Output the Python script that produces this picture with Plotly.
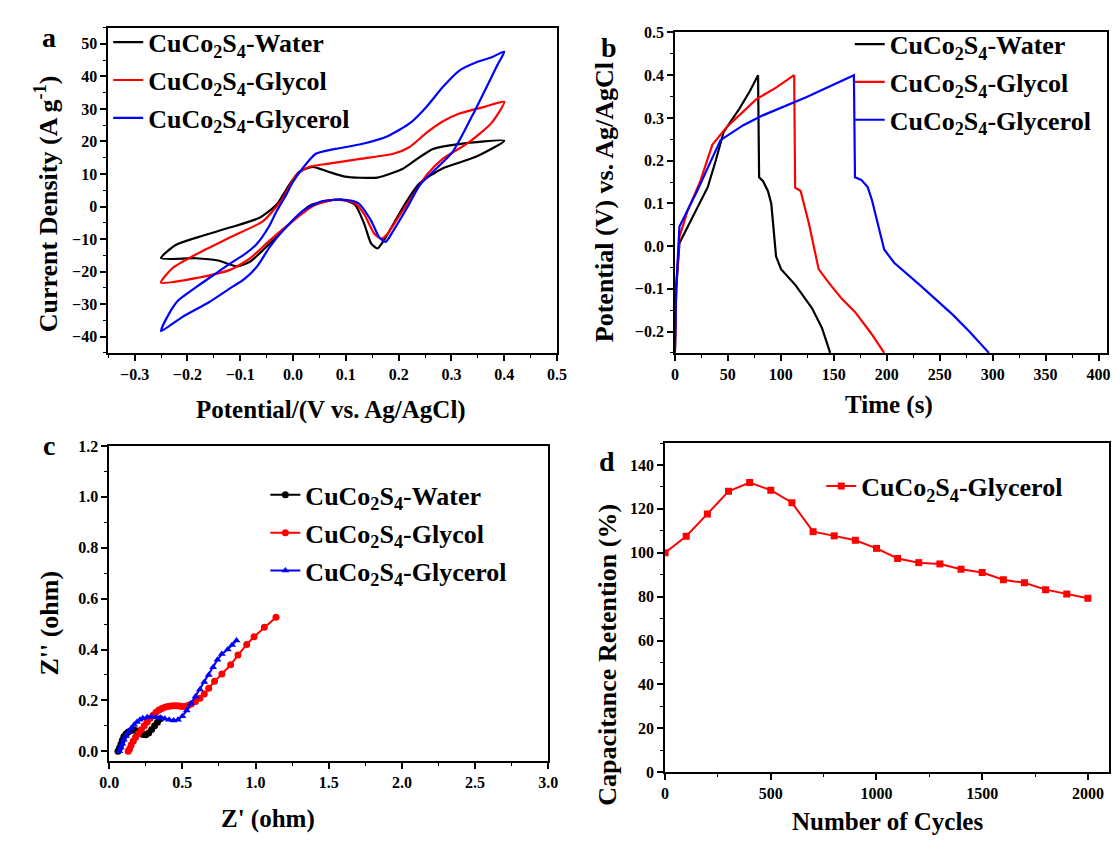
import plotly.graph_objects as go

W, H = 1120, 841
FONT = "Liberation Serif"

# ---------------- Panel a : CV ----------------
cv_water_v = [-0.25, -0.223, -0.18, -0.118, -0.0625, -0.031, -0.007, 0.012, 0.037, 0.067, 0.098, 0.16, 0.209, 0.24,
              0.265, 0.314, 0.4, 0.345, 0.283, 0.24, 0.215, 0.19, 0.172, 0.16, 0.148, 0.135, 0.117, 0.092, 0.067,
              0.03, -0.007, -0.044, -0.081, -0.106, -0.142, -0.185, -0.25]
cv_water_i = [-15.9, -11.9, -9.4, -6.4, -3.4, 0.6, 6.7, 10.7, 12.2, 10.7, 9.2, 8.9, 11.7, 15.2,
              17.7, 19.2, 20.2, 15.2, 11.7, 7.2, 1.6, -5.4, -10.4, -12.9, -11.4, -5.4, 0.6, 2.1, 1.8,
              0.1, -5.4, -11.4, -16.9, -18.4, -16.6, -15.9, -15.9]

cv_glycol_v = [-0.25, -0.228, -0.18, -0.118, -0.056, -0.019, 0.006, 0.031, 0.068, 0.13, 0.19, 0.22, 0.253, 0.284,
               0.314, 0.364, 0.4, 0.376, 0.333, 0.284, 0.253, 0.228, 0.203, 0.179, 0.167, 0.154, 0.135, 0.117,
               0.08, 0.037, 0.0, -0.044, -0.081, -0.118, -0.18, -0.25]
cv_glycol_i = [-23.4, -18.9, -14.4, -9.4, -4.4, 2.6, 9.7, 12.2, 13.2, 14.7, 16.2, 18.2, 22.7, 26.2,
               28.5, 30.7, 32.2, 25.7, 19.7, 14.7, 9.7, 3.6, -2.4, -8.4, -9.9, -8.4, -2.4, 1.1,
               2.1, 0.1, -4.4, -10.4, -15.9, -19.4, -21.9, -23.4]

cv_glycerol_v = [-0.25, -0.235, -0.218, -0.18, -0.15, -0.118, -0.09, -0.068, -0.045, -0.031, -0.015, 0.0, 0.018,
                 0.043, 0.08, 0.13, 0.18, 0.222, 0.253, 0.284, 0.315, 0.345, 0.375, 0.4,
                 0.388, 0.345, 0.302, 0.265, 0.24, 0.216, 0.19, 0.175, 0.163, 0.148, 0.123, 0.092, 0.055,
                 0.018, -0.019, -0.044, -0.068, -0.093, -0.118, -0.16, -0.21, -0.25]
cv_glycerol_i = [-38.3, -33.0, -29.0, -24.4, -21.0, -17.4, -14.5, -11.4, -6.0, -1.4, 3.0, 7.6, 11.7,
                 16.2, 17.7, 19.2, 21.7, 25.7, 30.7, 36.8, 41.8, 44.2, 45.8, 47.6,
                 43.8, 29.7, 16.7, 10.7, 6.6, -0.4, -7.4, -10.9, -9.4, -4.4, 1.1, 2.1, 1.6,
                 -1.4, -7.4, -12.4, -18.4, -22.4, -25.0, -29.5, -34.0, -38.3]

# ---------------- Panel b : GCD ----------------
gcd_water_t = [0, 1.2, 4.3, 10.5, 18, 31, 38.3, 46, 61, 70.8, 78.5, 79.5, 83.2, 87.8, 91, 93.5, 95.5, 100.2,
               114, 129.6, 138.9, 146.6]
gcd_water_p = [-0.25, -0.1, 0.007, 0.037, 0.072, 0.138, 0.198, 0.267, 0.322, 0.363, 0.4, 0.161, 0.152, 0.129,
               0.099, 0.03, -0.024, -0.054, -0.092, -0.146, -0.192, -0.25]

gcd_glycol_t = [0, 1.2, 4.3, 12, 24, 35.3, 49, 77, 95.5, 112.6, 113.5, 118.7, 126.5, 135.7, 145, 157.4, 170,
                185.2, 197.6]
gcd_glycol_p = [-0.25, -0.1, 0.022, 0.083, 0.152, 0.237, 0.279, 0.344, 0.371, 0.4, 0.137, 0.129, 0.053, -0.054,
                -0.085, -0.123, -0.154, -0.204, -0.25]

gcd_glycerol_t = [0, 1.2, 4.3, 21, 43, 64.6, 83, 123.4, 169, 170, 176, 182, 186, 189.9, 193.5, 197.6, 207, 231.6,
                  262.5, 278, 296.5]
gcd_glycerol_p = [-0.25, -0.1, 0.046, 0.129, 0.248, 0.283, 0.306, 0.348, 0.4, 0.161, 0.155, 0.138, 0.108, 0.068,
                  0.03, -0.008, -0.039, -0.092, -0.161, -0.2, -0.25]

# ---------------- Panel c : Nyquist ----------------
eis_water_re = [0.06, 0.07, 0.08, 0.09, 0.10, 0.115, 0.13, 0.15, 0.17, 0.19, 0.21, 0.23, 0.25, 0.27, 0.29, 0.31,
                0.33, 0.35]
eis_water_im = [0.0, 0.012, 0.028, 0.043, 0.057, 0.068, 0.076, 0.082, 0.084, 0.08, 0.072, 0.066, 0.065, 0.072,
                0.086, 0.1, 0.114, 0.128]

eis_glycol_re = [0.13, 0.14, 0.15, 0.165, 0.18, 0.2, 0.22, 0.24, 0.26, 0.28, 0.30, 0.32, 0.34, 0.36, 0.38, 0.40,
                 0.42, 0.44, 0.46, 0.48, 0.50, 0.52, 0.54, 0.56, 0.59, 0.62, 0.65, 0.68, 0.72, 0.77, 0.83, 0.88,
                 0.94, 0.99, 1.06, 1.14]
eis_glycol_im = [0.0, 0.01, 0.025, 0.04, 0.055, 0.07, 0.085, 0.1, 0.115, 0.13, 0.142, 0.153, 0.162, 0.168, 0.173,
                 0.176, 0.178, 0.179, 0.179, 0.178, 0.176, 0.176, 0.18, 0.186, 0.196, 0.208, 0.225, 0.248, 0.275,
                 0.304, 0.34, 0.378, 0.42, 0.45, 0.487, 0.527]

eis_glycerol_re = [0.07, 0.08, 0.09, 0.10, 0.115, 0.13, 0.15, 0.17, 0.19, 0.21, 0.23, 0.26, 0.29, 0.32, 0.35,
                   0.38, 0.41, 0.44, 0.47, 0.50, 0.53, 0.56, 0.59, 0.62, 0.65, 0.68, 0.71, 0.74, 0.77, 0.81,
                   0.84, 0.87]
eis_glycerol_im = [0.0, 0.015, 0.03, 0.045, 0.06, 0.075, 0.09, 0.104, 0.115, 0.124, 0.13, 0.134, 0.135, 0.134,
                   0.132, 0.128, 0.124, 0.121, 0.124, 0.138, 0.16, 0.188, 0.215, 0.243, 0.272, 0.3, 0.33, 0.36,
                   0.382, 0.4, 0.418, 0.435]

# ---------------- Panel d : cycling ----------------
cycles = [0, 100, 200, 300, 400, 500, 600, 700, 800, 900, 1000, 1100, 1200, 1300, 1400, 1500, 1600, 1700,
          1800, 1900, 2000]
retention = [100, 107.5, 117.7, 128, 132, 128.5, 122.8, 109.6, 107.7, 105.7, 102, 97.4, 95.5, 94.9, 92.5, 91,
             87.7, 86.3, 83.2, 81.2, 79.3]

names = ["CuCo<sub>2</sub>S<sub>4</sub>-Water", "CuCo<sub>2</sub>S<sub>4</sub>-Glycol",
         "CuCo<sub>2</sub>S<sub>4</sub>-Glycerol"]
colors = ["#000000", "#ff0000", "#0000ff"]


def px_x(a, b):
    return [a / W, b / W]


def px_y(top, bottom):
    return [1 - bottom / H, 1 - top / H]


fig = go.Figure()

# panel a
for v, i, n, c in zip([cv_water_v, cv_glycol_v, cv_glycerol_v], [cv_water_i, cv_glycol_i, cv_glycerol_i],
                      names, colors):
    fig.add_trace(go.Scatter(x=v, y=i, mode="lines", name=n, line=dict(color=c, width=2.2, shape="spline",
                                                                       smoothing=0.6),
                             xaxis="x", yaxis="y", legend="legend", legendgroup="a" + n))
# panel b
for t, p, n, c in zip([gcd_water_t, gcd_glycol_t, gcd_glycerol_t], [gcd_water_p, gcd_glycol_p, gcd_glycerol_p],
                      names, colors):
    fig.add_trace(go.Scatter(x=t, y=p, mode="lines", name=n, line=dict(color=c, width=2.2),
                             xaxis="x2", yaxis="y2", legend="legend2", legendgroup="b" + n))
# panel c
symbols = ["circle", "circle", "triangle-up"]
for re_, im_, n, c, s in zip([eis_water_re, eis_glycol_re, eis_glycerol_re],
                             [eis_water_im, eis_glycol_im, eis_glycerol_im], names, colors, symbols):
    fig.add_trace(go.Scatter(x=re_, y=im_, mode="lines+markers", name=n, line=dict(color=c, width=2),
                             marker=dict(color=c, size=7, symbol=s),
                             xaxis="x3", yaxis="y3", legend="legend3", legendgroup="c" + n))
# panel d
fig.add_trace(go.Scatter(x=cycles, y=retention, mode="lines+markers", name=names[2],
                         line=dict(color="#ff0000", width=2), marker=dict(color="#ff0000", size=7,
                                                                          symbol="square"),
                         xaxis="x4", yaxis="y4", legend="legend4"))

tickfont = dict(family=FONT, size=16, color="black", weight="bold")


def axis(domain, rng, dtick, minor, fmt=None, anchor=None):
    d = dict(domain=domain, range=rng, dtick=dtick, tick0=0, ticks="outside", ticklen=6, tickwidth=1.5,
             tickcolor="black", showline=True, linecolor="black", linewidth=1.6, mirror=True,
             showgrid=False, zeroline=False, tickfont=tickfont,
             minor=dict(ticks="outside", ticklen=3, tickwidth=1.2, tickcolor="black", dtick=minor,
                        showgrid=False),
             anchor=anchor)
    if fmt:
        d["tickformat"] = fmt
    return d


fig.update_layout(
    width=W, height=H, margin=dict(l=0, r=0, t=0, b=0),
    paper_bgcolor="white", plot_bgcolor="white", showlegend=True,
    xaxis=axis(px_x(100, 557), [-0.35, 0.5], 0.1, 0.05, ".1f", "y"),
    yaxis=axis(px_y(20, 352), [-45, 55], 10, 5, None, "x"),
    xaxis2=axis(px_x(677, 1117), [0, 408], 50, 25, None, "y2"),
    yaxis2=axis(px_y(25, 352), [-0.25, 0.5], 0.1, 0.05, ".1f", "x2"),
    xaxis3=axis(px_x(101, 548), [0, 3.0], 0.5, 0.25, ".1f", "y3"),
    yaxis3=axis(px_y(447, 769), [-0.04, 1.2], 0.2, 0.1, ".1f", "x3"),
    xaxis4=axis(px_x(667, 1119), [0, 2100], 500, 250, None, "y4"),
    yaxis4=axis(px_y(444, 780), [0, 150], 20, 10, None, "x4"),
)

legfont = dict(family=FONT, size=26, color="black", weight="bold")
common_leg = dict(bgcolor="rgba(0,0,0,0)", borderwidth=0, font=legfont, xanchor="left", yanchor="top",
                  tracegroupgap=1, itemclick=False)
fig.update_layout(
    legend=dict(x=100 / W, y=1 - 11 / H, **common_leg),
    legend2=dict(x=855 / W, y=1 - 13 / H, **common_leg),
    legend3=dict(x=260 / W, y=1 - 473 / H, **common_leg),
    legend4=dict(x=826 / W, y=1 - 464 / H, **common_leg),
)

ann = []


def label(text, x, y, size=25, angle=0):
    ann.append(dict(text=text, x=x / W, y=1 - y / H, xref="paper", yref="paper", showarrow=False,
                    textangle=angle, xanchor="center", yanchor="middle",
                    font=dict(family=FONT, size=size, color="black", weight="bold")))


label("a", 40, 30, 28)
label("b", 610, 40, 28)
label("c", 40, 447, 28)
label("d", 608, 463, 28)
label("Potential/(V vs. Ag/AgCl)", 327, 410)
label("Time (s)", 895, 405)
label("Z' (ohm)", 263, 828)
label("Number of Cycles", 893, 830)
label("Current Density (A g<sup>-1</sup>)", 38, 200, 26, -90)
label("Potential (V) vs. Ag/AgCl", 606, 198, 26, -90)
label("Z'' (ohm)", 40, 628, 26, -90)
label("Capacitance Retention (%)", 609, 660, 26, -90)
fig.update_layout(annotations=ann)

fig.write_html("out.html")
